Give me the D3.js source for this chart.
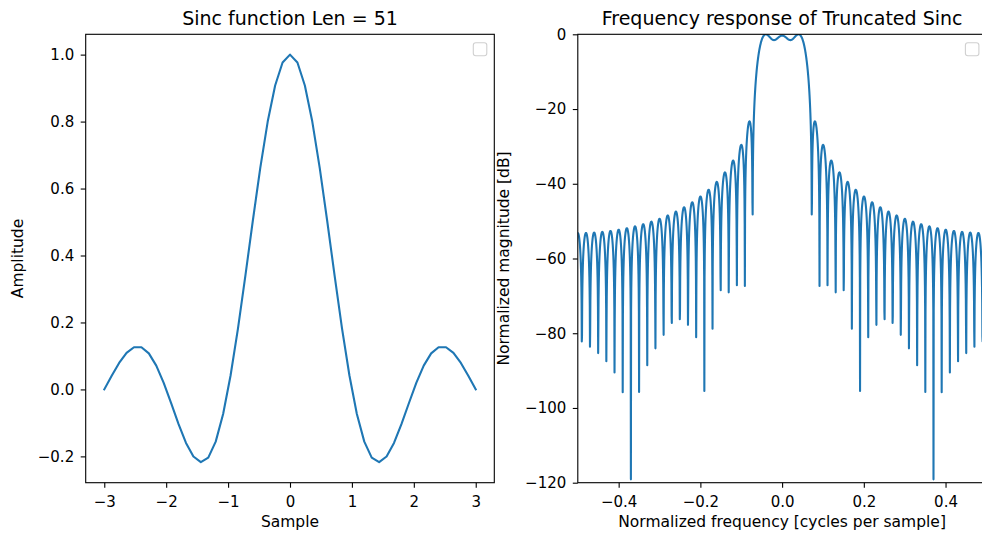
<!DOCTYPE html>
<html>
<head>
<meta charset="utf-8">
<script src="https://cdn.jsdelivr.net/npm/d3@7"></script>
<style>
  body { margin: 0; background: #fff; }
  text { font-family: "DejaVu Sans", sans-serif; fill: #000; }
  .axis path, .axis line { stroke: #000; stroke-width: 1.1; }
  .axis text { font-size: 15px; fill: #000; }
</style>
</head>
<body>
<div id="chart"></div>
<script>
// sample positions of the truncated sinc (51 taps)
const sampleX = [
  -3.00, -2.88, -2.76, -2.64, -2.52, -2.40, -2.28, -2.16, -2.04, -1.92,
  -1.80, -1.68, -1.56, -1.44, -1.32, -1.20, -1.08, -0.96, -0.84, -0.72,
  -0.60, -0.48, -0.36, -0.24, -0.12, 0.00, 0.12, 0.24, 0.36, 0.48,
  0.60, 0.72, 0.84, 0.96, 1.08, 1.20, 1.32, 1.44, 1.56, 1.68,
  1.80, 1.92, 2.04, 2.16, 2.28, 2.40, 2.52, 2.64, 2.76, 2.88, 3.00,
];
// amplitude of each tap (left panel)
const sincValues = [
  0.0000000, 0.0406867, 0.0789486, 0.1090967, 0.1260642, 0.1261378, 0.1075710, 0.0709940, 0.0195563, -0.0412294,
  -0.1039433, -0.1599750, -0.2004306, -0.2171332, -0.2036045, -0.1559149, -0.0732967, 0.0415571, 0.1825559, 0.3406416,
  0.5045512, 0.6618370, 0.8000428, 0.9079088, 0.9764807, 1.0000000, 0.9764807, 0.9079088, 0.8000428, 0.6618370,
  0.5045512, 0.3406416, 0.1825559, 0.0415571, -0.0732967, -0.1559149, -0.2036045, -0.2171332, -0.2004306, -0.1599750,
  -0.1039433, -0.0412294, 0.0195563, 0.0709940, 0.1075710, 0.1261378, 0.1260642, 0.1090967, 0.0789486, 0.0406867, 0.0000000,
];

const leftXTicks = [-3, -2, -1, 0, 1, 2, 3];
const leftYTicks = [-0.2, 0.0, 0.2, 0.4, 0.6, 0.8, 1.0];
const rightXTicks = [-0.4, -0.2, 0.0, 0.2, 0.4];
const rightYTicks = [0, -20, -40, -60, -80, -100, -120];
const nfft = 2048;

const width = 982;
const height = 535;
const lineColour = '#1f77b4';

// Magnitude of the zero padded DFT of the taps, normalised to its peak, in dB
function frequencyResponse(h, n) {
  const mags = [];
  for (let k = 0; k < n; k++) {
    let re = 0;
    let im = 0;
    h.forEach((v, t) => {
      const a = -2 * Math.PI * k * t / n;
      re += v * Math.cos(a);
      im += v * Math.sin(a);
    });
    mags.push(Math.hypot(re, im));
  }
  const peak = d3.max(mags);
  const out = [];
  for (let i = 0; i < n; i++) {
    const k = (i + n / 2) % n; // fftshift
    const db = 20 * Math.log10(mags[k] / peak);
    out.push({ f: -0.5 + i / (n - 1), db: Math.max(db, -300) });
  }
  return out;
}

const svg = d3.select('#chart').append('svg')
  .attr('width', width)
  .attr('height', height);

const panels = [
  {
    left: 85.7, top: 34.3, w: 408.6, h: 448.4,
    xDomain: [-3.3, 3.3], yDomain: [-0.2786, 1.0607],
    xTicks: leftXTicks, yTicks: leftYTicks,
    xFormat: d3.format('d'), yFormat: d3.format('.1f'),
    title: 'Sinc function Len = 51', xLabel: 'Sample', yLabel: 'Amplitude',
    yLabelX: 22.5,
    data: sampleX.map((x, i) => ({ x, y: sincValues[i] })),
  },
  {
    left: 577.8, top: 34.3, w: 408.6, h: 448.4,
    xDomain: [-0.5, 0.5], yDomain: [-120, 0],
    xTicks: rightXTicks, yTicks: rightYTicks,
    xFormat: d3.format('.1f'), yFormat: d3.format('d'),
    title: 'Frequency response of Truncated Sinc',
    xLabel: 'Normalized frequency [cycles per sample]',
    yLabel: 'Normalized magnitude [dB]',
    yLabelX: 508.5,
    data: frequencyResponse(sincValues, nfft).map((d) => ({ x: d.f, y: d.db })),
  },
];

panels.forEach((p, idx) => {
  const x = d3.scaleLinear().domain(p.xDomain).range([0, p.w]);
  const y = d3.scaleLinear().domain(p.yDomain).range([p.h, 0]);

  const g = svg.append('g')
    .attr('transform', `translate(${p.left},${p.top})`);

  g.append('clipPath')
    .attr('id', `clip-${idx}`)
    .append('rect')
    .attr('width', p.w)
    .attr('height', p.h);

  // the curve
  g.append('path')
    .datum(p.data)
    .attr('clip-path', `url(#clip-${idx})`)
    .attr('fill', 'none')
    .attr('stroke', lineColour)
    .attr('stroke-width', 2.1)
    .attr('stroke-linejoin', 'round')
    .attr('stroke-linecap', 'square')
    .attr('d', d3.line().x((d) => x(d.x)).y((d) => y(d.y)));

  // axes
  g.append('g')
    .attr('class', 'axis')
    .attr('transform', `translate(0,${p.h})`)
    .call(d3.axisBottom(x).tickValues(p.xTicks).tickFormat(p.xFormat)
      .tickSize(5).tickSizeOuter(0).tickPadding(8.5))
    .select('.domain').remove();

  g.append('g')
    .attr('class', 'axis')
    .call(d3.axisLeft(y).tickValues(p.yTicks).tickFormat(p.yFormat)
      .tickSize(5).tickSizeOuter(0).tickPadding(6.5))
    .select('.domain').remove();

  // spines
  g.append('rect')
    .attr('width', p.w)
    .attr('height', p.h)
    .attr('fill', 'none')
    .attr('stroke', '#000')
    .attr('stroke-width', 1.1);

  // empty legend frame (legend called with no labels)
  g.append('rect')
    .attr('x', p.w - 21)
    .attr('y', 8.5)
    .attr('width', 13.5)
    .attr('height', 13)
    .attr('rx', 2.5)
    .attr('fill', '#fff')
    .attr('stroke', '#d0d0d0')
    .attr('stroke-width', 1.1);

  // title and labels
  g.append('text')
    .attr('x', p.w / 2)
    .attr('y', -9.3)
    .attr('text-anchor', 'middle')
    .attr('font-size', 19)
    .text(p.title);

  g.append('text')
    .attr('x', p.w / 2)
    .attr('y', 527.4 - p.top)
    .attr('text-anchor', 'middle')
    .attr('font-size', 15.5)
    .text(p.xLabel);

  svg.append('text')
    .attr('transform', `translate(${p.yLabelX},${p.top + p.h / 2}) rotate(-90)`)
    .attr('text-anchor', 'middle')
    .attr('font-size', 15.5)
    .text(p.yLabel);
});
</script>
</body>
</html>
